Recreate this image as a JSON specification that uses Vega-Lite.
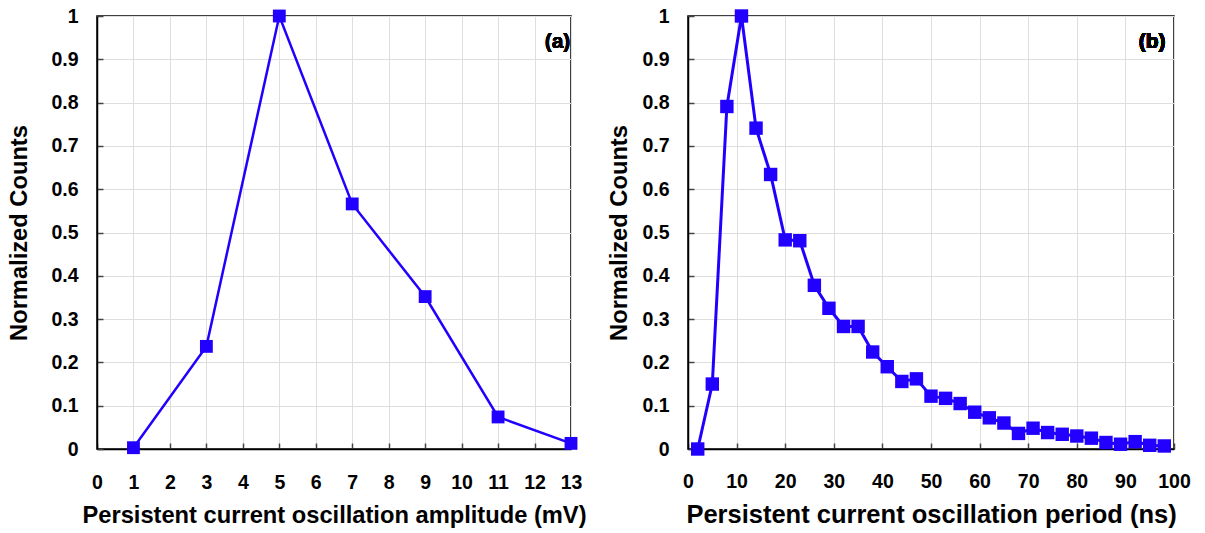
{
  "$schema": "https://vega.github.io/schema/vega-lite/v6.json",
  "background": "white",
  "padding": {"left": 7, "top": 5, "right": 5, "bottom": 5},
  "datasets": {
    "amp": [
      {"amplitude": 1, "counts": 0.003},
      {"amplitude": 3, "counts": 0.237},
      {"amplitude": 5, "counts": 1.0},
      {"amplitude": 7, "counts": 0.566},
      {"amplitude": 9, "counts": 0.352},
      {"amplitude": 11, "counts": 0.074},
      {"amplitude": 13, "counts": 0.013}
    ],
    "period": [
      {"period": 2, "counts": 0.0},
      {"period": 5, "counts": 0.150},
      {"period": 8, "counts": 0.791},
      {"period": 11, "counts": 1.0},
      {"period": 14, "counts": 0.741},
      {"period": 17, "counts": 0.634},
      {"period": 20, "counts": 0.483},
      {"period": 23, "counts": 0.481},
      {"period": 26, "counts": 0.378},
      {"period": 29, "counts": 0.325},
      {"period": 32, "counts": 0.283},
      {"period": 35, "counts": 0.283},
      {"period": 38, "counts": 0.224},
      {"period": 41, "counts": 0.190},
      {"period": 44, "counts": 0.156},
      {"period": 47, "counts": 0.162},
      {"period": 50, "counts": 0.122},
      {"period": 53, "counts": 0.117},
      {"period": 56, "counts": 0.105},
      {"period": 59, "counts": 0.085},
      {"period": 62, "counts": 0.072},
      {"period": 65, "counts": 0.060},
      {"period": 68, "counts": 0.036},
      {"period": 71, "counts": 0.048},
      {"period": 74, "counts": 0.038},
      {"period": 77, "counts": 0.034},
      {"period": 80, "counts": 0.030},
      {"period": 83, "counts": 0.025},
      {"period": 86, "counts": 0.015},
      {"period": 89, "counts": 0.011},
      {"period": 92, "counts": 0.017},
      {"period": 95, "counts": 0.0085},
      {"period": 98, "counts": 0.007}
    ]
  },
  "config": {
    "font": "Liberation Sans",
    "view": {"stroke": "#000000", "strokeWidth": 1.5},
    "axis": {
      "labelFont": "Liberation Sans",
      "labelFontWeight": "bold",
      "labelFontSize": 19.5,
      "labelColor": "#000000",
      "titleFont": "Liberation Sans",
      "titleFontWeight": "bold",
      "titleFontSize": 23.7,
      "titleColor": "#000000",
      "gridColor": "#dedede",
      "gridWidth": 1,
      "domainColor": "#000000",
      "domainWidth": 1.5,
      "tickColor": "#444444",
      "tickSize": -6,
      "tickWidth": 1.5,
      "labelFlush": false,
      "labelOverlap": false
    }
  },
  "spacing": 20,
  "hconcat": [
    {
      "width": 474,
      "height": 433,
      "data": {"name": "amp"},
      "encoding": {
        "x": {
          "field": "amplitude",
          "type": "quantitative",
          "scale": {"domain": [0, 13], "nice": false},
          "axis": {
            "values": [0, 1, 2, 3, 4, 5, 6, 7, 8, 9, 10, 11, 12, 13],
            "title": "Persistent current oscillation amplitude (mV)",
            "labelPadding": 30,
            "titlePadding": 12
          }
        },
        "y": {
          "field": "counts",
          "type": "quantitative",
          "scale": {"domain": [0, 1], "nice": false},
          "axis": {
            "values": [0, 0.1, 0.2, 0.3, 0.4, 0.5, 0.6, 0.7, 0.8, 0.9, 1],
            "format": ".1~f",
            "title": "Normalized Counts",
            "labelPadding": 25,
            "titlePadding": 19
          }
        }
      },
      "layer": [
        {"mark": {"type": "line", "color": "#2200ff", "strokeWidth": 2.5}},
        {"mark": {"type": "square", "size": 165, "color": "#2200ff", "opacity": 1, "filled": true}},
        {
          "mark": {"type": "text", "fontWeight": "bold", "fontSize": 21, "font": "Liberation Sans", "align": "center", "baseline": "middle", "color": "#000000"},
          "encoding": {
            "x": {"datum": 12.63, "type": "quantitative"},
            "y": {"datum": 0.94, "type": "quantitative"},
            "text": {"value": "(a)"}
          }
        }
      ]
    },
    {
      "width": 486,
      "height": 433,
      "data": {"name": "period"},
      "encoding": {
        "x": {
          "field": "period",
          "type": "quantitative",
          "scale": {"domain": [0, 100], "nice": false},
          "axis": {
            "values": [0, 10, 20, 30, 40, 50, 60, 70, 80, 90, 100],
            "title": "Persistent current oscillation period (ns)",
            "titleFontSize": 25.5,
            "labelPadding": 29,
            "titlePadding": 12
          }
        },
        "y": {
          "field": "counts",
          "type": "quantitative",
          "scale": {"domain": [0, 1], "nice": false},
          "axis": {
            "values": [0, 0.1, 0.2, 0.3, 0.4, 0.5, 0.6, 0.7, 0.8, 0.9, 1],
            "format": ".1~f",
            "title": "Normalized Counts",
            "labelPadding": 25,
            "titlePadding": 10
          }
        }
      },
      "layer": [
        {"mark": {"type": "line", "color": "#2200ff", "strokeWidth": 3}},
        {"mark": {"type": "square", "size": 180, "color": "#2200ff", "opacity": 1, "filled": true}},
        {
          "mark": {"type": "text", "fontWeight": "bold", "fontSize": 21, "font": "Liberation Sans", "align": "center", "baseline": "middle", "color": "#000000"},
          "encoding": {
            "x": {"datum": 95.5, "type": "quantitative"},
            "y": {"datum": 0.94, "type": "quantitative"},
            "text": {"value": "(b)"}
          }
        }
      ]
    }
  ]
}
